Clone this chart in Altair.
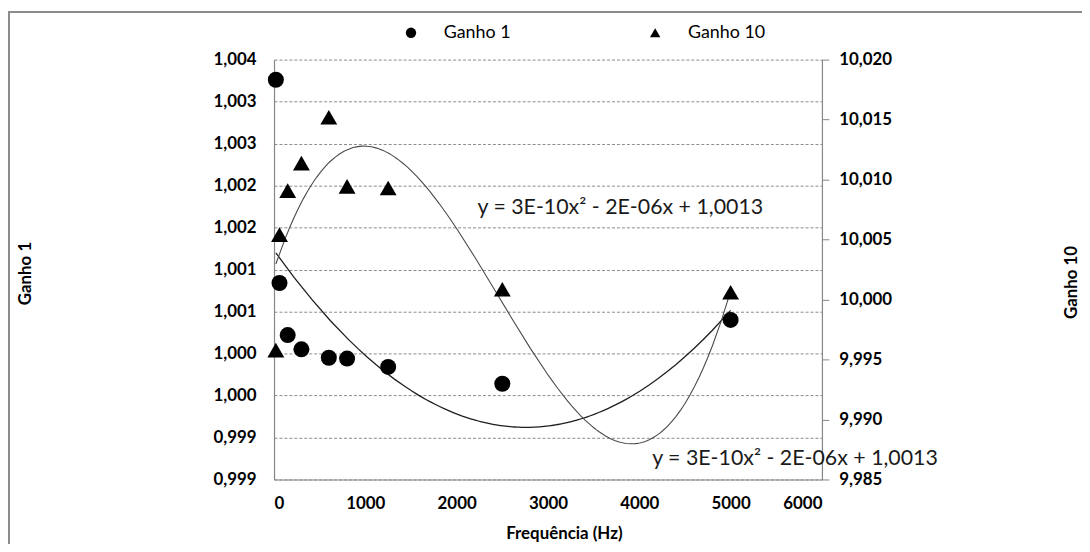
import altair as alt
import pandas as pd

# ---- data ----
freq_hz = [20, 60, 150, 300, 600, 800, 1250, 2500, 5000]
ganho_1 = [1.00326, 1.00084, 1.00022, 1.00005, 0.99995, 0.99994, 0.99984, 0.99964, 1.00040]
ganho_10 = [9.99578, 10.00541, 10.00908, 10.01137, 10.0152, 10.00943, 10.0093, 10.00086, 10.00061]
series_names = ["Ganho 1", "Ganho 10"]
x_ticks = [0, 1000, 2000, 3000, 4000, 5000, 6000]
left_ticks = [0.9985, 0.999, 0.9995, 1.0, 1.0005, 1.001, 1.0015, 1.002, 1.0025, 1.003, 1.0035]
right_ticks = [9.985, 9.99, 9.995, 10.0, 10.005, 10.01, 10.015, 10.02]
equation_texts = ["y = 3E-10x² - 2E-06x + 1,0013", "y = 3E-10x² - 2E-06x + 1,0013"]
equation_x = [2228, 4141]
equation_y = [1.00173, 0.99874]

df1 = pd.DataFrame({"freq": freq_hz, "g1": ganho_1, "series": series_names[0]})
df10 = pd.DataFrame({"freq": freq_hz, "g10": ganho_10, "series": series_names[1]})
df_eq = pd.DataFrame({"freq": equation_x, "g1": equation_y, "label": equation_texts})
df_frame = pd.DataFrame({"k": [0]})

FONT = "Lato"
comma_fmt = "replace(format(datum.value + 1e-9, '.3f'), '.', ',')"

x_enc = alt.X(
    "freq:Q",
    scale=alt.Scale(domain=[0, 6000], nice=False, zero=False),
    axis=alt.Axis(values=x_ticks, format="d", title="Frequência (Hz)", grid=False,
                  ticks=False, labelPadding=16, titleX=292, titleY=54,
                  titleBaseline="middle", titleAlign="center"),
)
y1 = alt.Y(
    "g1:Q",
    scale=alt.Scale(domain=[0.9985, 1.0035], nice=False, zero=False),
    axis=alt.Axis(values=left_ticks, labelExpr=comma_fmt, title="Ganho 1", orient="left",
                  grid=True, gridDash=[3, 2], gridColor="#8a8a8a", gridWidth=1,
                  ticks=False, labelPadding=18, titleX=-250, titleY=215, titleAngle=270,
                  titleBaseline="middle", titleAlign="center"),
)
y10 = alt.Y(
    "g10:Q",
    scale=alt.Scale(domain=[9.985, 10.020], nice=False, zero=False),
    axis=alt.Axis(values=right_ticks, labelExpr=comma_fmt, title="Ganho 10", orient="right",
                  grid=False, ticks=True, tickSize=7, labelPadding=10, titleX=251, titleY=224,
                  titleAngle=270, titleBaseline="middle", titleAlign="center"),
)
shape_enc = alt.Shape(
    "series:N",
    scale=alt.Scale(domain=series_names, range=["circle", "triangle-up"]),
    legend=alt.Legend(title=None, orient="none", legendX=129, legendY=-36,
                      direction="horizontal", symbolSize=110, symbolFillColor="black",
                      symbolStrokeColor="black", symbolStrokeWidth=0, labelFont=FONT,
                      labelFontSize=18, labelColor="black", labelOffset=24, columnPadding=136),
)

frame = alt.Chart(df_frame).mark_rect(fillOpacity=0, stroke="#8c8c8c", strokeWidth=2).encode(
    x=alt.value(-267), x2=alt.value(830), y=alt.value(-48), y2=alt.value(520)
)
line1 = alt.Chart(df1).transform_regression("freq", "g1", method="poly", order=2).mark_line(
    color="#1e1e1e", strokeWidth=1.3).encode(x=x_enc, y=y1)
pts1 = alt.Chart(df1).mark_point(filled=True, size=260, opacity=1, color="black").encode(
    x=x_enc, y=y1, shape=shape_enc)
eq_text = alt.Chart(df_eq).mark_text(align="left", baseline="middle", font=FONT, fontSize=21.5,
                                     color="#1a1a1a").encode(x=x_enc, y=y1, text="label:N")

line10 = alt.Chart(df10).transform_regression("freq", "g10", method="poly", order=3).mark_line(
    color="#4a4a4a", strokeWidth=1.1).encode(x=x_enc, y=y10)
pts10 = alt.Chart(df10).mark_point(filled=True, size=289, opacity=1, color="black").encode(
    x=x_enc, y=y10, shape=shape_enc)

left = alt.layer(frame, line1, pts1, eq_text)
right = alt.layer(line10, pts10)

chart = (
    alt.layer(left, right)
    .resolve_scale(y="independent")
    .properties(width=552, height=423,
                padding={"left": 268, "top": 50, "right": 262, "bottom": 63},
                autosize=alt.AutoSizeParams(type="none"))
    .configure_view(strokeWidth=0)
    .configure_axis(labelFont=FONT, labelFontSize=17, labelFontWeight="bold", labelColor="black",
                    titleFont=FONT, titleFontSize=17, titleFontWeight="bold", titleColor="black",
                    domainColor="#868686", domainWidth=1.2, tickColor="#868686")
)

chart.save("out.html", embed_options={"renderer": "svg", "actions": False})
